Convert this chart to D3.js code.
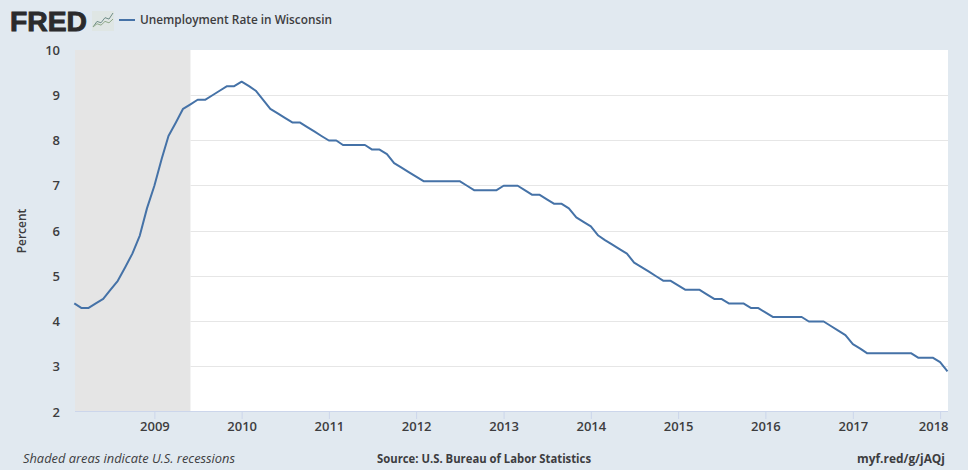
<!DOCTYPE html>
<html><head><meta charset="utf-8">
<script src="https://cdn.jsdelivr.net/npm/d3@7/dist/d3.min.js"></script>
<style>
html,body{margin:0;padding:0;background:#e1e9f0}
svg{display:block}
text{font-family:"Open Sans","Liberation Sans",sans-serif;fill:#3d3d3f}
</style></head><body><svg id="c" width="968" height="470"></svg>
<script>
const startDate = "2008-02-01";
const endDate = "2018-02-01";
const unemployment = [
4.4,4.3,4.3,4.4,4.5,4.7,4.9,5.2,5.5,5.9,6.5,
7.0,7.6,8.1,8.4,8.7,8.8,8.9,8.9,9.0,9.1,9.2,9.2,
9.3,9.2,9.1,8.9,8.7,8.6,8.5,8.4,8.4,8.3,8.2,8.1,
8.0,8.0,7.9,7.9,7.9,7.9,7.8,7.8,7.7,7.5,7.4,7.3,
7.2,7.1,7.1,7.1,7.1,7.1,7.1,7.0,6.9,6.9,6.9,6.9,
7.0,7.0,7.0,6.9,6.8,6.8,6.7,6.6,6.6,6.5,6.3,6.2,
6.1,5.9,5.8,5.7,5.6,5.5,5.3,5.2,5.1,5.0,4.9,4.9,
4.8,4.7,4.7,4.7,4.6,4.5,4.5,4.4,4.4,4.4,4.3,4.3,
4.2,4.1,4.1,4.1,4.1,4.1,4.0,4.0,4.0,3.9,3.8,3.7,
3.5,3.4,3.3,3.3,3.3,3.3,3.3,3.3,3.3,3.2,3.2,3.2,
3.1,2.9];
const yTicks = [2,3,4,5,6,7,8,9,10];
const xTickYears = [2009,2010,2011,2012,2013,2014,2015,2016,2017,2018];
const recession = ["2008-02-01","2009-06-01"];
const seriesName = "Unemployment Rate in Wisconsin";
const iconUpper = [0,1.2,0.9,2,1.7,3];
const iconLower = [0,0.7,0.4,1.2,0.9,1.7];

const parse = d3.utcParse("%Y-%m-%d");
const months = d3.utcMonth.range(parse(startDate), d3.utcMonth.offset(parse(endDate),1));
const data = months.map((d,i)=>({date:d,value:unemployment[i]}));

const svg = d3.select("#c");
const L=75,R=948,T=50,B=412;
const x = d3.scaleUtc().domain([parse(startDate),parse(endDate)]).range([74.3,947.5]);
const y = d3.scaleLinear().domain([2,10]).range([B,T]);

svg.append("rect").attr("x",L).attr("y",T).attr("width",R-L).attr("height",B-T).attr("fill","#fff");
const recEnd = x(parse(recession[1]));
svg.append("rect").attr("x",L).attr("y",T).attr("width",recEnd-L).attr("height",B-T).attr("fill","#e5e5e5");

const grid = svg.append("g");
grid.selectAll("line").data(yTicks.filter(d=>d>2&&d<10)).join("line")
  .attr("x1",recEnd).attr("x2",R)
  .attr("y1",d=>Math.floor(y(d))+.5).attr("y2",d=>Math.floor(y(d))+.5)
  .attr("stroke","#e6e6e6");

const yAxis = d3.axisLeft(y).tickValues(yTicks).tickSize(0).tickPadding(0);
const gy = svg.append("g").attr("transform",`translate(60,0)`).call(yAxis);
gy.select(".domain").remove();
gy.selectAll("text").attr("font-size",13).attr("font-weight",600).style("font-family",'"Open Sans",sans-serif').attr("fill","#3d3d3f");

const xAxis = d3.axisBottom(x).tickValues(xTickYears.map(v=>new Date(Date.UTC(v,0,1))))
  .tickFormat(d3.utcFormat("%Y")).tickSize(8).tickPadding(3);
const gx = svg.append("g").attr("transform",`translate(0,${B-1})`).call(xAxis);
gx.select(".domain").attr("stroke","#ccd6eb").attr("d",`M${L},0.5H${R}`);
gx.selectAll("line").attr("stroke","#ccd6eb");
gx.selectAll("text").attr("font-size",13).attr("font-weight",600).style("font-family",'"Open Sans",sans-serif').attr("fill","#3d3d3f");
// the last label is pulled back so that it ends at the plot's right edge
gx.selectAll(".tick:last-of-type text").attr("text-anchor","end").attr("x",R-x(new Date(Date.UTC(xTickYears[xTickYears.length-1],0,1))));

svg.append("path").datum(data).attr("fill","none").attr("stroke","#4572a7").attr("stroke-width",2)
  .attr("stroke-linejoin","round").attr("stroke-linecap","butt")
  .attr("d",d3.line().x(d=>x(d.date)).y(d=>y(d.value)));

svg.append("text").attr("transform","translate(26,231) rotate(-90)").attr("text-anchor","middle")
  .attr("font-size",12).attr("font-weight",600).text("Percent");

// header
svg.append("text").attr("x",10).attr("y",30.5).attr("font-size",27.5)
  .attr("textLength",77).attr("lengthAdjust","spacingAndGlyphs")
  .style("font-family",'"Liberation Sans",sans-serif').style("font-weight",700)
  .style("fill","#2b2b2d").style("stroke","#2b2b2d").style("stroke-width",0.9).text("FRED");
svg.append("rect").attr("x",92).attr("y",11).attr("width",22).attr("height",20).attr("fill","#dfe6e4");
const ix = d3.scaleLinear().domain([0,iconUpper.length-1]).range([93,113]);
const iy = d3.scaleLinear().domain([0,3]).range([27,13]);
[[iconUpper,"#6f8d88"],[iconLower,"#8fa98a"]].forEach(([a,c])=>{
  svg.append("path").datum(a).attr("fill","none").attr("stroke",c).attr("stroke-width",1)
   .attr("d",d3.line().x((d,i)=>ix(i)).y(d=>iy(d)));
});
svg.append("line").attr("x1",119).attr("x2",135).attr("y1",20).attr("y2",20).attr("stroke","#4572a7").attr("stroke-width",2);
svg.append("text").attr("x",140).attr("y",24).attr("font-size",12).attr("font-weight",600)
  .attr("textLength",192).attr("lengthAdjust","spacingAndGlyphs").text(seriesName);

// footer
svg.append("text").attr("x",23).attr("y",463).attr("font-size",12.5).attr("font-style","italic")
  .attr("textLength",212).attr("lengthAdjust","spacingAndGlyphs").text("Shaded areas indicate U.S. recessions");
svg.append("text").attr("x",377).attr("y",463).attr("font-size",12).attr("font-weight",700)
  .attr("textLength",214).attr("lengthAdjust","spacingAndGlyphs")
  .text("Source: U.S. Bureau of Labor Statistics");
svg.append("text").attr("x",857).attr("y",463).attr("font-size",12).attr("font-weight",700)
  .attr("textLength",88).attr("lengthAdjust","spacingAndGlyphs")
  .text("myf.red/g/jAQj");
</script></body></html>
